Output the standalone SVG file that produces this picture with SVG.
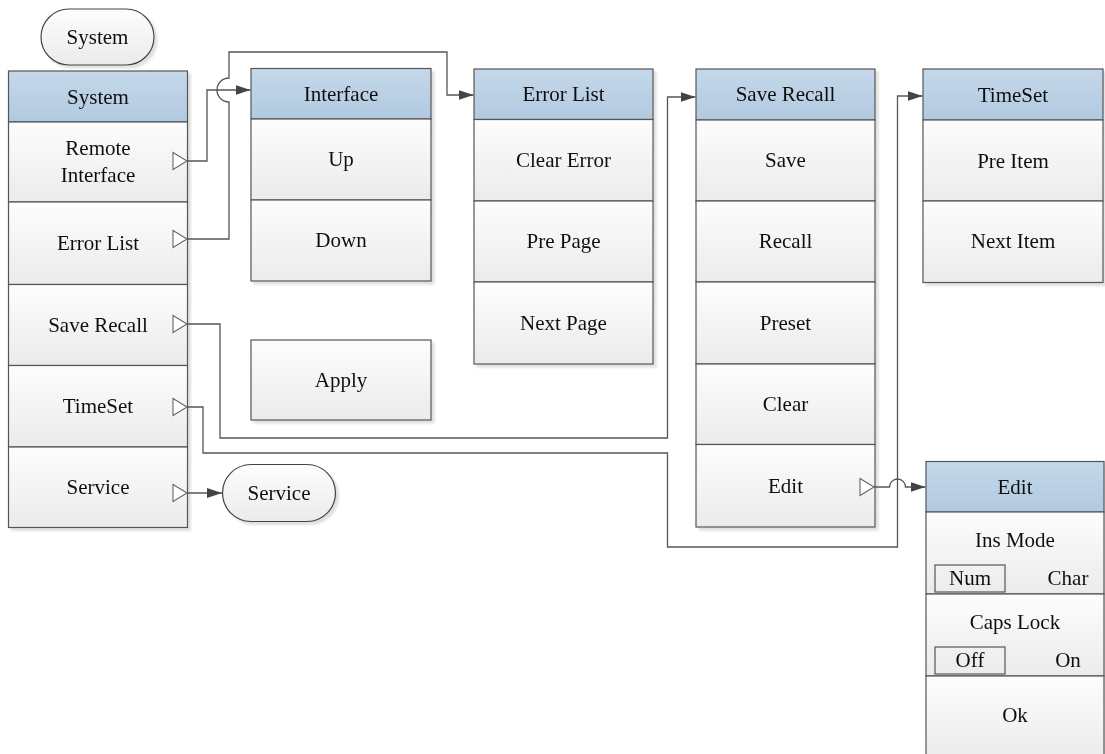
<svg xmlns="http://www.w3.org/2000/svg" width="1105" height="754" viewBox="0 0 1105 754">
<style>
.cell{fill:url(#gc);stroke:#555;stroke-width:1.2}
.hdr{fill:url(#gh);stroke:#555;stroke-width:1.2}
.box{fill:none;stroke:#555;stroke-width:1.2}
.oval{fill:url(#gc);stroke:#444;stroke-width:1.2}
.tri{fill:#fff;stroke:#666;stroke-width:1.1}
.con{fill:none;stroke:#555;stroke-width:1.3}
text{font-family:"Liberation Serif","Times New Roman",serif;font-size:21px;fill:#111;text-anchor:middle}
.sh{filter:url(#ds)}
</style>
<defs>
<linearGradient id="gc" x1="0" y1="0" x2="0" y2="1"><stop offset="0" stop-color="#fdfdfd"/><stop offset="1" stop-color="#ebebeb"/></linearGradient>
<linearGradient id="gh" x1="0" y1="0" x2="0" y2="1"><stop offset="0" stop-color="#c5d8ea"/><stop offset="1" stop-color="#b1c9e0"/></linearGradient>
<filter id="ds" x="-10%" y="-10%" width="130%" height="130%"><feDropShadow dx="3" dy="3" stdDeviation="1.2" flood-color="#000" flood-opacity="0.12"/></filter>
<marker id="ar" markerUnits="userSpaceOnUse" markerWidth="16" markerHeight="12" refX="15" refY="6" orient="auto"><path d="M0,1 L15,6 L0,11 Z" fill="#444"/></marker>
</defs>

<g id="system-oval" class="sh">
<rect class="oval" x="41" y="9" width="113" height="56" rx="28" ry="28"/>
<text x="97.5" y="44">System</text>
</g>

<g id="system-menu" class="sh">
<rect class="hdr" x="8.5" y="71" width="179" height="51"/>
<rect class="cell" x="8.5" y="122" width="179" height="80"/>
<rect class="cell" x="8.5" y="202" width="179" height="82.5"/>
<rect class="cell" x="8.5" y="284.5" width="179" height="81"/>
<rect class="cell" x="8.5" y="365.5" width="179" height="81.5"/>
<rect class="cell" x="8.5" y="447" width="179" height="80.5"/>
<text x="98" y="104">System</text>
<text x="98" y="155">Remote</text>
<text x="98" y="182">Interface</text>
<text x="98" y="250">Error List</text>
<text x="98" y="332">Save Recall</text>
<text x="98" y="413">TimeSet</text>
<text x="98" y="494">Service</text>
<polygon class="tri" points="173,152.5 187,161 173,169.5"/>
<polygon class="tri" points="173,230.5 187,239 173,247.5"/>
<polygon class="tri" points="173,315.5 187,324 173,332.5"/>
<polygon class="tri" points="173,398.5 187,407 173,415.5"/>
<polygon class="tri" points="173,484.5 187,493 173,501.5"/>
</g>

<g id="interface-menu" class="sh">
<rect class="hdr" x="251" y="68.5" width="180" height="50.5"/>
<rect class="cell" x="251" y="119" width="180" height="81"/>
<rect class="cell" x="251" y="200" width="180" height="81"/>
<text x="341" y="101">Interface</text>
<text x="341" y="166">Up</text>
<text x="341" y="247">Down</text>
</g>

<g id="apply" class="sh">
<rect class="cell" x="251" y="340" width="180" height="80"/>
<text x="341" y="387">Apply</text>
</g>

<g id="errorlist-menu" class="sh">
<rect class="hdr" x="474" y="69" width="179" height="50.5"/>
<rect class="cell" x="474" y="119.5" width="179" height="81.5"/>
<rect class="cell" x="474" y="201" width="179" height="81"/>
<rect class="cell" x="474" y="282" width="179" height="82"/>
<text x="563.5" y="101">Error List</text>
<text x="563.5" y="167">Clear Error</text>
<text x="563.5" y="248">Pre Page</text>
<text x="563.5" y="330">Next Page</text>
</g>

<g id="saverecall-menu" class="sh">
<rect class="hdr" x="696" y="69" width="179" height="51"/>
<rect class="cell" x="696" y="120" width="179" height="81"/>
<rect class="cell" x="696" y="201" width="179" height="81"/>
<rect class="cell" x="696" y="282" width="179" height="82"/>
<rect class="cell" x="696" y="364" width="179" height="80.5"/>
<rect class="cell" x="696" y="444.5" width="179" height="82.5"/>
<text x="785.5" y="101">Save Recall</text>
<text x="785.5" y="167">Save</text>
<text x="785.5" y="248">Recall</text>
<text x="785.5" y="330">Preset</text>
<text x="785.5" y="411">Clear</text>
<text x="785.5" y="493">Edit</text>
<polygon class="tri" points="860,478.5 874,487 860,495.5"/>
</g>

<g id="timeset-menu" class="sh">
<rect class="hdr" x="923" y="69" width="180" height="51"/>
<rect class="cell" x="923" y="120" width="180" height="81"/>
<rect class="cell" x="923" y="201" width="180" height="81.5"/>
<text x="1013" y="102">TimeSet</text>
<text x="1013" y="168">Pre Item</text>
<text x="1013" y="248">Next Item</text>
</g>

<g id="edit-menu" class="sh">
<rect class="hdr" x="926" y="461.5" width="178" height="50.5"/>
<rect class="cell" x="926" y="512" width="178" height="82"/>
<rect class="cell" x="926" y="594" width="178" height="82"/>
<rect class="cell" x="926" y="676" width="178" height="84"/>
<text x="1015" y="494">Edit</text>
<text x="1015" y="547">Ins Mode</text>
<rect class="box" x="935" y="565" width="70" height="27"/>
<text x="970" y="585">Num</text>
<text x="1068" y="585">Char</text>
<text x="1015" y="629">Caps Lock</text>
<rect class="box" x="935" y="647" width="70" height="27"/>
<text x="970" y="667">Off</text>
<text x="1068" y="667">On</text>
<text x="1015" y="722">Ok</text>
</g>

<g id="service-oval" class="sh">
<rect class="oval" x="222.5" y="464.5" width="113" height="57" rx="28.5" ry="28.5"/>
<text x="279" y="500">Service</text>
</g>

<g id="connectors">
<path class="con" d="M187,161 H207 V90 H250.5" marker-end="url(#ar)"/>
<path class="con" d="M187,239 H229 V102 A12,12 0 0 1 229,78 V52 H447 V95 H473.5" marker-end="url(#ar)"/>
<path class="con" d="M187,324 H220 V438 H667.5 V97 H695.5" marker-end="url(#ar)"/>
<path class="con" d="M187,407 H203 V453 H667.5 V547 H897.5 V96 H922.5" marker-end="url(#ar)"/>
<path class="con" d="M187,493 H222" marker-end="url(#ar)"/>
<path class="con" d="M874,487 H889.5 A8,8 0 0 1 905.5,487 H925.5" marker-end="url(#ar)"/>
</g>
</svg>
